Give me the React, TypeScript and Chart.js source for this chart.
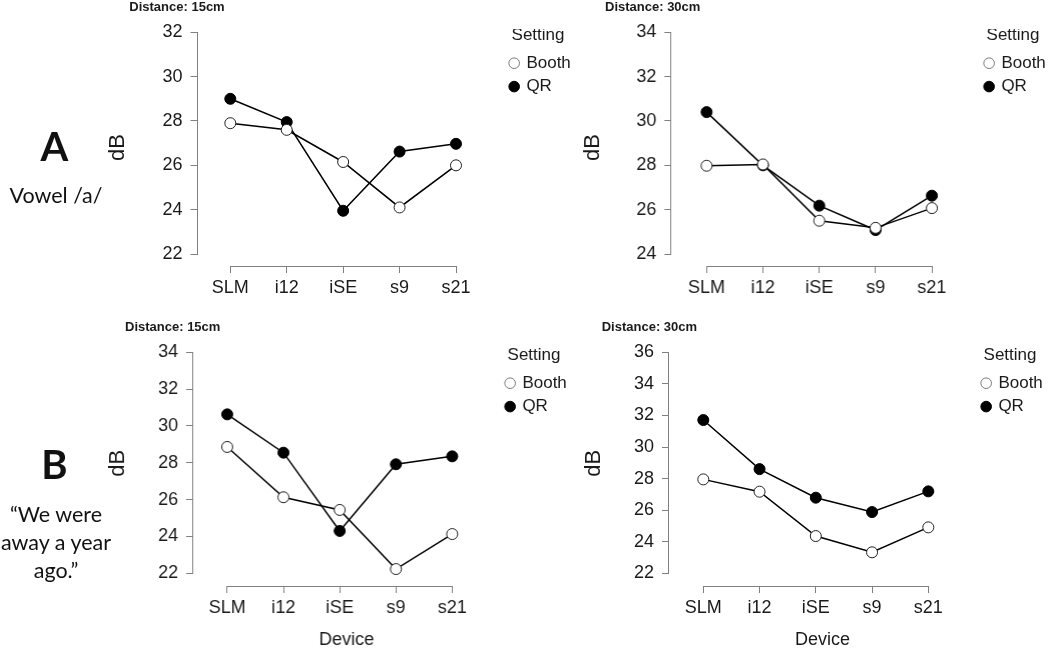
import React, { useEffect, useRef } from "react";
import { Chart, registerables } from "chart.js";

Chart.register(...registerables);

// ---------- data ----------
const devices = ["SLM", "i12", "iSE", "s9", "s21"];
const settingNames = ["Booth", "QR"];

const vowel15Booth = [27.9, 27.6, 26.15, 24.1, 26.0];
const vowel15QR = [29.0, 27.95, 23.95, 26.62, 26.97];
const vowel30Booth = [27.98, 28.04, 25.5, 25.18, 26.07];
const vowel30QR = [30.4, 28.0, 26.18, 25.08, 26.63];
const sentence15Booth = [28.86, 26.13, 25.44, 22.23, 24.13];
const sentence15QR = [30.63, 28.55, 24.3, 27.92, 28.35];
const sentence30Booth = [27.95, 27.17, 24.36, 23.33, 24.91];
const sentence30QR = [31.71, 28.6, 26.79, 25.88, 27.19];

const yTicksA15 = [22, 24, 26, 28, 30, 32];
const yTicksA30 = [24, 26, 28, 30, 32, 34];
const yTicksB15 = [22, 24, 26, 28, 30, 32, 34];
const yTicksB30 = [22, 24, 26, 28, 30, 32, 34, 36];

// ---------- styles / layout ----------
const FONT = "'Liberation Sans', Arial, Helvetica, sans-serif";
const LABEL_FONT = "Lato, 'Open Sans', sans-serif";
const AXIS_COLOR = "#808080";
const TEXT_COLOR = "#1a1a1a";
const LEGEND_W = 68;

type Panel = {
  title: string;
  booth: number[];
  qr: number[];
  yTicks: number[];
  showXTitle: boolean;
  frame: { left: number; top: number; right: number; bottom: number };
  plot: { left: number; top: number; bottom: number };
  yAnchor: [number, number]; // pixel of first / last y tick
  xAnchor: [number, number]; // pixel of first / last category
  legendTitleTop: number;
  titlePos: { x: number; y: number };
};

const panels: Panel[] = [
  {
    title: "Distance: 15cm",
    booth: vowel15Booth,
    qr: vowel15QR,
    yTicks: yTicksA15,
    showXTitle: false,
    frame: { left: 100, top: 0, right: 572, bottom: 305 },
    plot: { left: 197.5, top: 29, bottom: 266 },
    yAnchor: [254, 32.3],
    xAnchor: [230.3, 456],
    legendTitleTop: -2.5,
    titlePos: { x: 129.3, y: 6 },
  },
  {
    title: "Distance: 30cm",
    booth: vowel30Booth,
    qr: vowel30QR,
    yTicks: yTicksA30,
    showXTitle: false,
    frame: { left: 575.3, top: 0, right: 1047, bottom: 305 },
    plot: { left: 671.5, top: 29, bottom: 266 },
    yAnchor: [254, 32.3],
    xAnchor: [706.7, 932],
    legendTitleTop: -2.5,
    titlePos: { x: 605, y: 6 },
  },
  {
    title: "Distance: 15cm",
    booth: sentence15Booth,
    qr: sentence15QR,
    yTicks: yTicksB15,
    showXTitle: true,
    frame: { left: 100.3, top: 320, right: 568, bottom: 655 },
    plot: { left: 193.3, top: 340.6, bottom: 586 },
    yAnchor: [573.3, 352.3],
    xAnchor: [227.3, 452.3],
    legendTitleTop: 5.9,
    titlePos: { x: 125, y: 326 },
  },
  {
    title: "Distance: 30cm",
    booth: sentence30Booth,
    qr: sentence30QR,
    yTicks: yTicksB30,
    showXTitle: true,
    frame: { left: 576, top: 320, right: 1044, bottom: 655 },
    plot: { left: 669, top: 340.6, bottom: 586 },
    yAnchor: [573.3, 352.3],
    xAnchor: [703.3, 928.3],
    legendTitleTop: 5.9,
    titlePos: { x: 601.7, y: 326 },
  },
];

type SideText = { text: string; cx: number; cy: number; size: number; bold?: boolean };
const sideTexts: SideText[] = [
  { text: "A", cx: 54.5, cy: 147, size: 40, bold: true },
  { text: "Vowel /a/", cx: 56, cy: 196.7, size: 21.5 },
  { text: "B", cx: 54.5, cy: 465, size: 40, bold: true },
  { text: "\u201CWe were", cx: 56, cy: 515, size: 21.5 },
  { text: "away a year", cx: 56, cy: 543, size: 21.5 },
  { text: "ago.\u201D", cx: 56, cy: 571.7, size: 21.5 },
];

function alignPx(p: number) {
  return Math.round(p - 0.5) + 0.5;
}

const axisLinesPlugin = {
  id: "axisLines",
  beforeDatasetsDraw(chart: any) {
    const { ctx, chartArea, scales } = chart;
    const xs = scales.x;
    const ys = scales.y;
    const yVals = ys.ticks.map((t: any) => t.value);
    const xVals = xs.ticks.map((t: any) => t.value);
    ctx.save();
    ctx.strokeStyle = AXIS_COLOR;
    ctx.lineWidth = 1;
    ctx.beginPath();
    const xLine = Math.round(chartArea.left) - 0.5;
    const yTop = alignPx(ys.getPixelForValue(Math.max(...yVals)));
    const yBot = alignPx(ys.getPixelForValue(Math.min(...yVals)));
    ctx.moveTo(xLine, yTop - 0.5);
    ctx.lineTo(xLine, yBot + 0.5);
    const yLine = Math.round(chartArea.bottom) + 0.5;
    const xLeft = alignPx(xs.getPixelForValue(Math.min(...xVals)));
    const xRight = alignPx(xs.getPixelForValue(Math.max(...xVals)));
    ctx.moveTo(xLeft - 0.5, yLine);
    ctx.lineTo(xRight + 0.5, yLine);
    ctx.stroke();
    ctx.restore();
  },
};

function PanelChart({ p }: { p: Panel }) {
  const ref = useRef<HTMLCanvasElement | null>(null);
  const W = p.frame.right - p.frame.left;
  const H = p.frame.bottom - p.frame.top;

  useEffect(() => {
    if (!ref.current) return;
    const plotRight = p.frame.right - LEGEND_W;
    const lo = p.yTicks[0];
    const hi = p.yTicks[p.yTicks.length - 1];
    const uPerPx = (hi - lo) / (p.yAnchor[0] - p.yAnchor[1]);
    const yMin = lo - (p.plot.bottom - p.yAnchor[0]) * uPerPx;
    const yMax = hi + (p.yAnchor[1] - p.plot.top) * uPerPx;
    const n = devices.length;
    const pxPerCat = (p.xAnchor[1] - p.xAnchor[0]) / (n - 1);
    const xMin = 1 - (p.xAnchor[0] - p.plot.left) / pxPerCat;
    const xMax = n + (plotRight - p.xAnchor[1]) / pxPerCat;
    const yWidth = p.plot.left - p.frame.left;
    const xHeight = p.frame.bottom - p.plot.bottom;

    const mk = (vals: number[]) => vals.map((v, i) => ({ x: i + 1, y: v }));

    const chart = new Chart(ref.current, {
      type: "line",
      data: {
        datasets: [
          {
            label: settingNames[0],
            data: mk(p.booth),
            borderColor: "#000",
            borderWidth: 1.5,
            pointRadius: 5.5,
            pointBackgroundColor: "#fff",
            pointBorderColor: "#222",
            pointBorderWidth: 1,
            pointStyle: "circle",
            tension: 0,
          },
          {
            label: settingNames[1],
            data: mk(p.qr),
            borderColor: "#000",
            borderWidth: 1.5,
            pointRadius: 5.5,
            pointBackgroundColor: "#000",
            pointBorderColor: "#000",
            pointBorderWidth: 1,
            pointStyle: "circle",
            tension: 0,
          },
        ],
      },
      options: {
        responsive: false,
        animation: false,
        events: [],
        layout: { padding: { top: p.plot.top - p.frame.top, left: 0, right: 0, bottom: 0 } },
        plugins: {
          tooltip: { enabled: false },
          legend: {
            position: "right",
            align: "start",
            maxWidth: LEGEND_W,
            title: {
              display: true,
              text: "Setting",
              position: "center",
              color: TEXT_COLOR,
              font: { size: 17, family: FONT },
              padding: { top: p.legendTitleTop, bottom: 1.4 },
            },
            labels: {
              usePointStyle: true,
              pointStyle: "circle",
              boxWidth: 7.5,
              boxHeight: 7.5,
              padding: 6.4,
              color: TEXT_COLOR,
              font: { size: 17, family: FONT },
              generateLabels: (c: any) => {
                const items = (Chart as any).defaults.plugins.legend.labels.generateLabels(c);
                return items.map((it: any) =>
                  it.datasetIndex === 0 ? { ...it, strokeStyle: "#7a7a7a", lineWidth: 1 } : it
                );
              },
            },
          },
        },
        scales: {
          x: {
            type: "linear",
            position: "bottom",
            min: xMin,
            max: xMax,
            bounds: "data",
            afterBuildTicks: (s: any) => {
              s.ticks = devices.map((_, i) => ({ value: i + 1 }));
            },
            afterFit: (s: any) => {
              s.height = xHeight;
            },
            border: { display: false },
            grid: {
              display: true,
              drawOnChartArea: false,
              drawTicks: true,
              tickLength: 7,
              color: AXIS_COLOR,
              lineWidth: 1,
            },
            ticks: {
              autoSkip: false,
              maxRotation: 0,
              padding: 4,
              color: TEXT_COLOR,
              font: { size: 18, family: FONT },
              callback: (v: any) => devices[Math.round(Number(v)) - 1] ?? "",
            },
            title: {
              display: p.showXTitle,
              text: "Device",
              color: TEXT_COLOR,
              font: { size: 18, family: FONT },
              padding: { top: 0, bottom: 4.2 },
            },
          },
          y: {
            type: "linear",
            position: "left",
            min: yMin,
            max: yMax,
            bounds: "data",
            afterBuildTicks: (s: any) => {
              s.ticks = p.yTicks.map((v) => ({ value: v }));
            },
            afterFit: (s: any) => {
              s.width = yWidth;
            },
            border: { display: false },
            grid: {
              display: true,
              drawOnChartArea: false,
              drawTicks: true,
              tickLength: 7,
              color: AXIS_COLOR,
              lineWidth: 1,
            },
            ticks: {
              autoSkip: false,
              padding: 8,
              color: TEXT_COLOR,
              font: { size: 18, family: FONT },
              callback: (v: any) => String(v),
            },
            title: {
              display: true,
              text: "dB",
              color: TEXT_COLOR,
              font: { size: 22, family: FONT },
              padding: { top: 4.8, bottom: 0 },
            },
          },
        },
      } as any,
      plugins: [axisLinesPlugin],
    });
    return () => chart.destroy();
  }, [p]);

  return (
    <>
      <canvas
        ref={ref}
        width={W}
        height={H}
        style={{ position: "absolute", left: p.frame.left, top: p.frame.top, width: W, height: H }}
      />
      <div
        style={{
          position: "absolute",
          left: p.titlePos.x,
          top: p.titlePos.y - 0.49 * 13,
          fontFamily: FONT,
          fontWeight: "bold",
          fontSize: 13,
          lineHeight: 1,
          color: TEXT_COLOR,
          whiteSpace: "nowrap",
        }}
      >
        {p.title}
      </div>
    </>
  );
}

export default function App() {
  return (
    <div
      style={{
        position: "absolute",
        left: 0,
        top: 0,
        width: 1050,
        height: 648,
        overflow: "hidden",
        background: "#fff",
      }}
    >
      {panels.map((p, i) => (
        <PanelChart key={i} p={p} />
      ))}
      {sideTexts.map((t, i) => (
        <div
          key={"s" + i}
          style={{
            position: "absolute",
            left: t.cx - 70,
            width: 140,
            top: t.cy - 0.53 * t.size,
            textAlign: "center",
            fontFamily: LABEL_FONT,
            fontWeight: t.bold ? 700 : 400,
            fontSize: t.size,
            lineHeight: 1,
            color: "#111",
            whiteSpace: "nowrap",
            zIndex: 2,
          }}
        >
          {t.text}
        </div>
      ))}
    </div>
  );
}
